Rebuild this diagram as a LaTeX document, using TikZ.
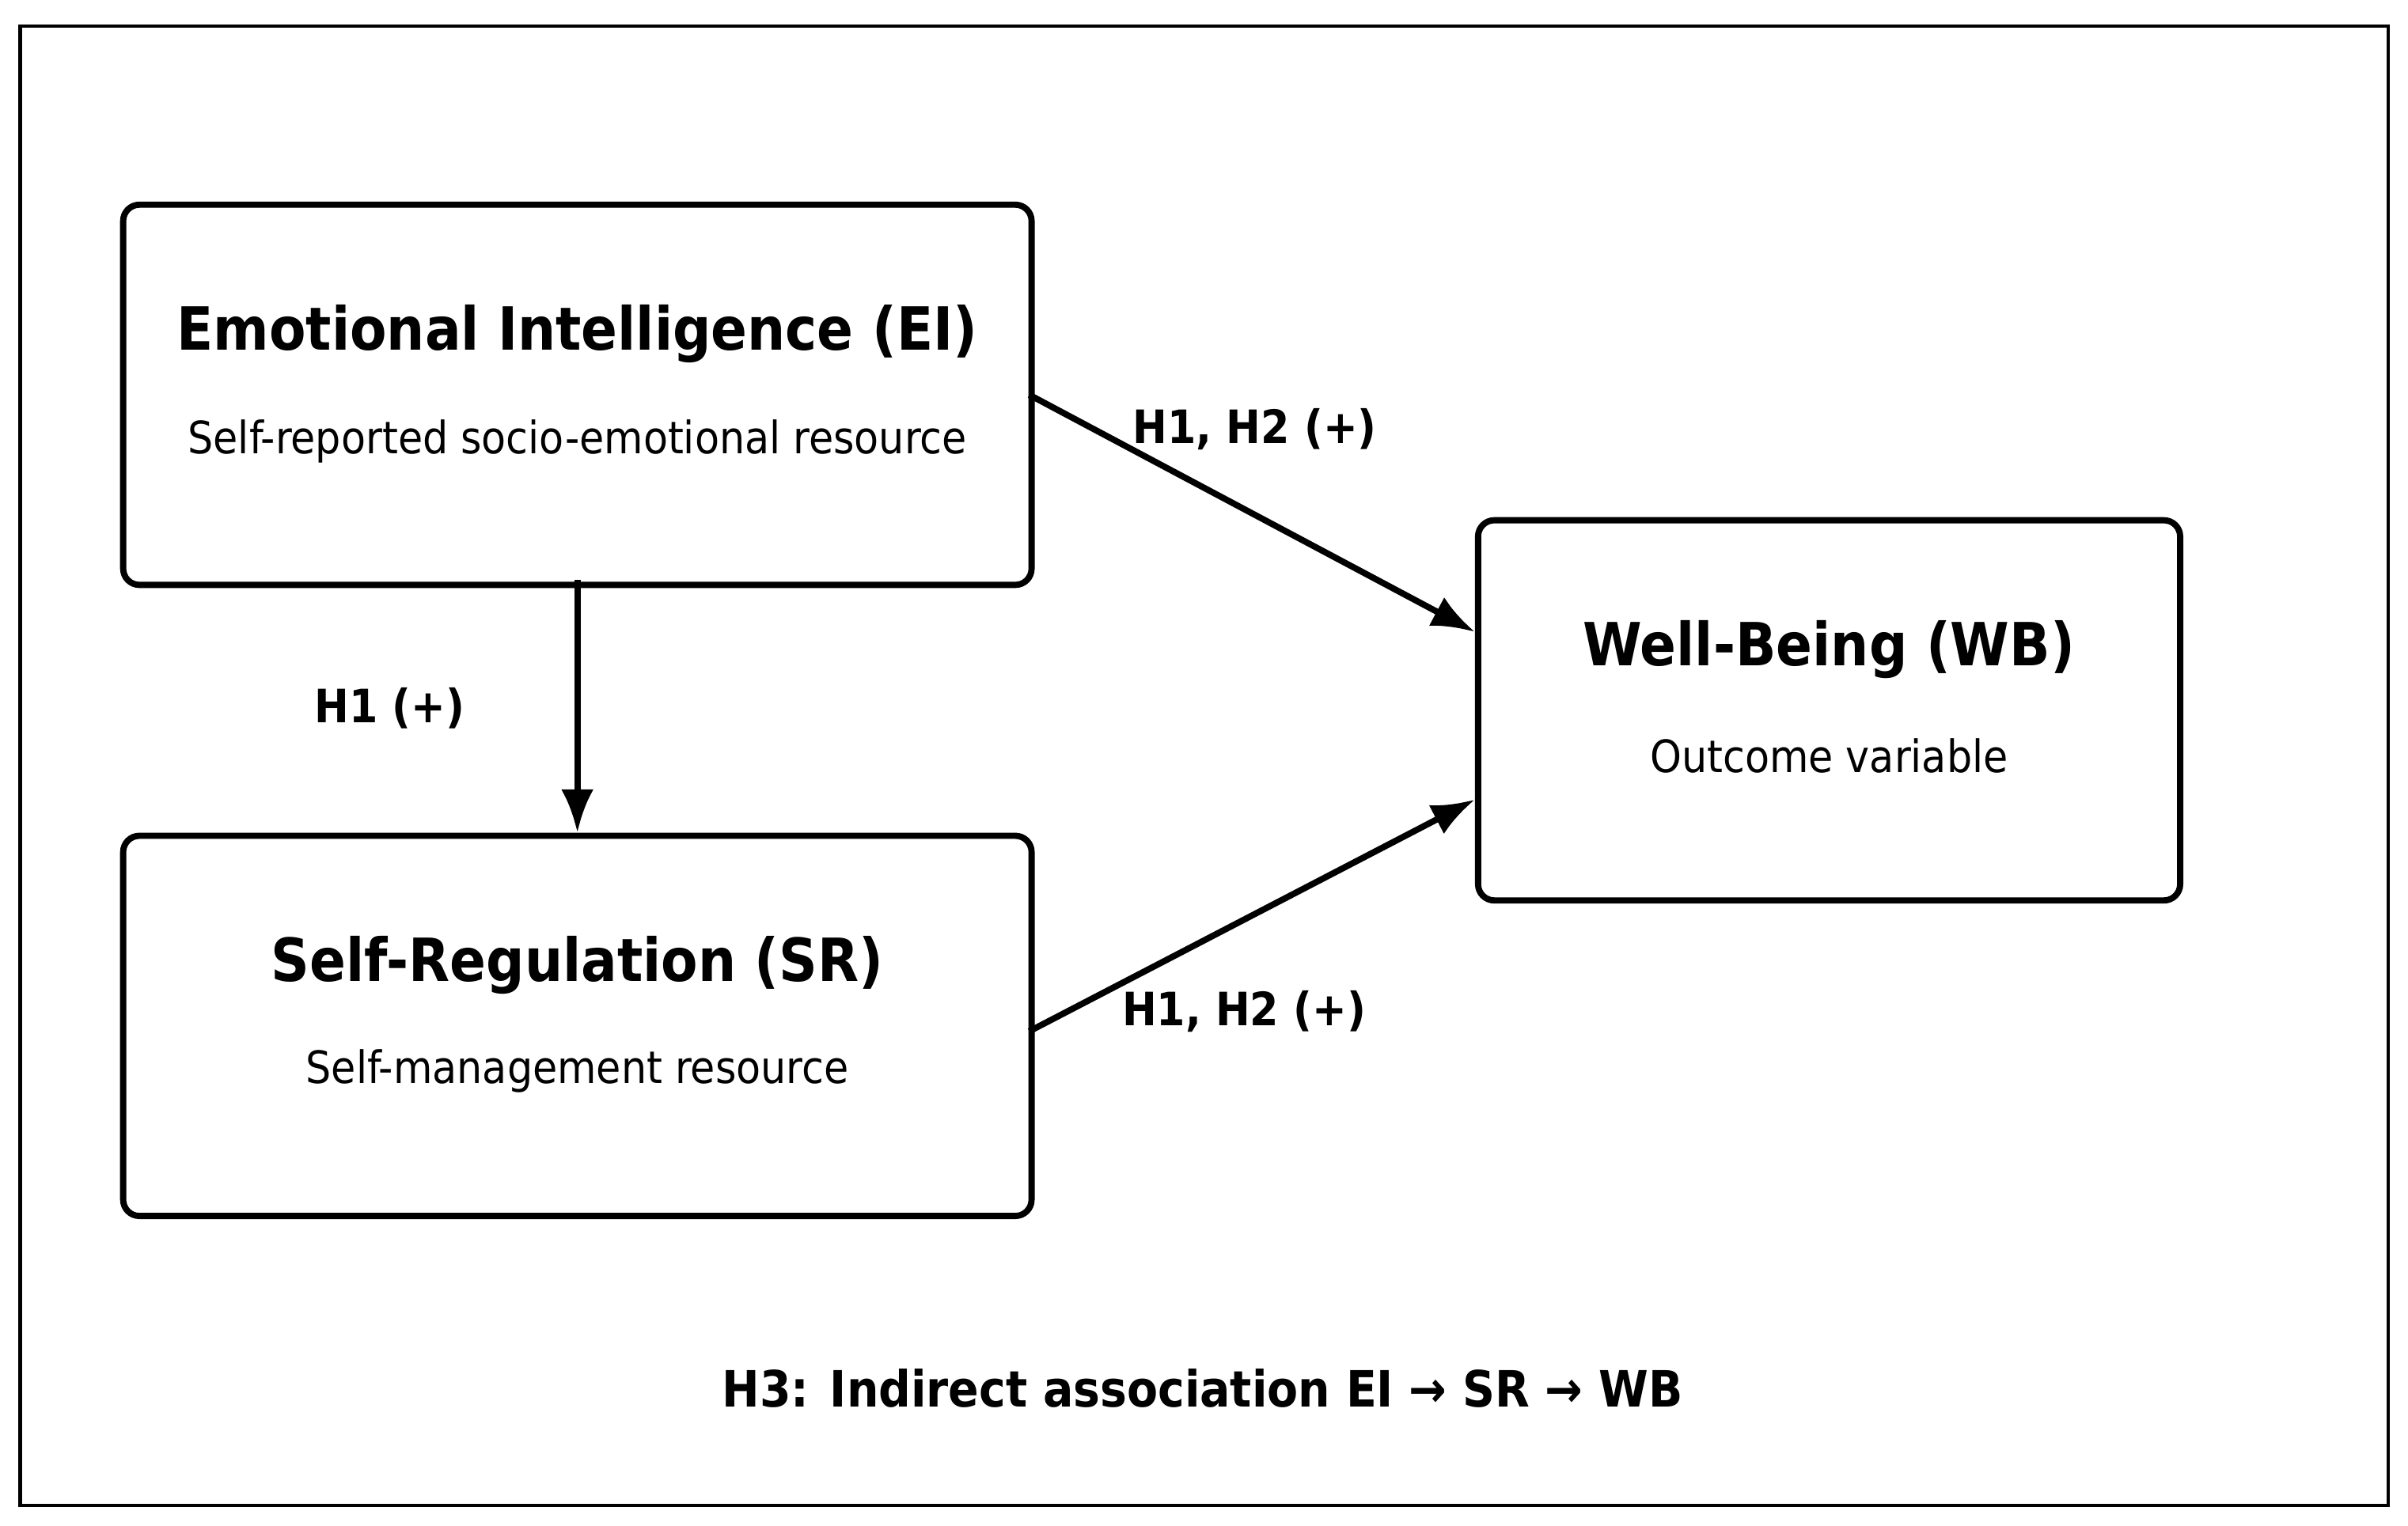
\documentclass[tikz,border=0pt]{standalone}
\usepackage{fontspec}
\setmainfont{DejaVu Sans Condensed}
\usetikzlibrary{arrows.meta}
\begin{document}
\begin{tikzpicture}[x=0.02cm,y=-0.02cm,
  box/.style={draw,line width=2.3pt,rounded corners=6pt,minimum width=590*0.02cm,minimum height=247*0.02cm,inner sep=0pt},
  conn/.style={line width=2.3pt,-{Latex[length=16pt,width=12pt]}},
  lab/.style={font=\fontsize{17}{20}\selectfont\bfseries}]
\useasboundingbox (0,0) rectangle (1564,991);
\draw[line width=1.3pt] (13,17) rectangle (1551,978);
\node[box] (ei) at (375,256.5) {};
\node[box] (sr) at (375,666.5) {};
\node[box,minimum width=456*0.02cm] (wb) at (1188,461.5) {};
\node[font=\fontsize{22}{26}\selectfont\bfseries] (eit) at (375,217) {Emotional Intelligence (EI)};
\node[font=\fontsize{16.5}{20}\selectfont] (eis) at (375,287) {Self-reported socio-emotional resource};
\node[font=\fontsize{22}{26}\selectfont\bfseries] (srt) at (375,627) {Self-Regulation (SR)};
\node[font=\fontsize{16.5}{20}\selectfont] (srs) at (375,696) {Self-management resource};
\node[font=\fontsize{22}{26}\selectfont\bfseries] (wbt) at (1188,422) {Well-Being (WB)};
\node[font=\fontsize{16.5}{20}\selectfont] (wbs) at (1188,491) {Outcome variable};
\draw[conn] ([xshift=-2pt]ei.east) -- ([yshift=29pt]wb.west);
\draw[conn] ([xshift=-2pt,yshift=-2pt]sr.east) -- ([yshift=-33pt]wb.west);
\draw[conn] ([yshift=3pt]ei.south) -- (sr.north);
\node[lab] (l1) at (815,279) {H1, H2 (+)};
\node[lab] (l2) at (808,657) {H1, H2 (+)};
\node[lab] (l3) at (253,460) {H1 (+)};
\node[font=\fontsize{18.5}{22}\selectfont\bfseries] (h3) at (781,902) {H3: Indirect association EI → SR → WB};
\end{tikzpicture}
\end{document}
